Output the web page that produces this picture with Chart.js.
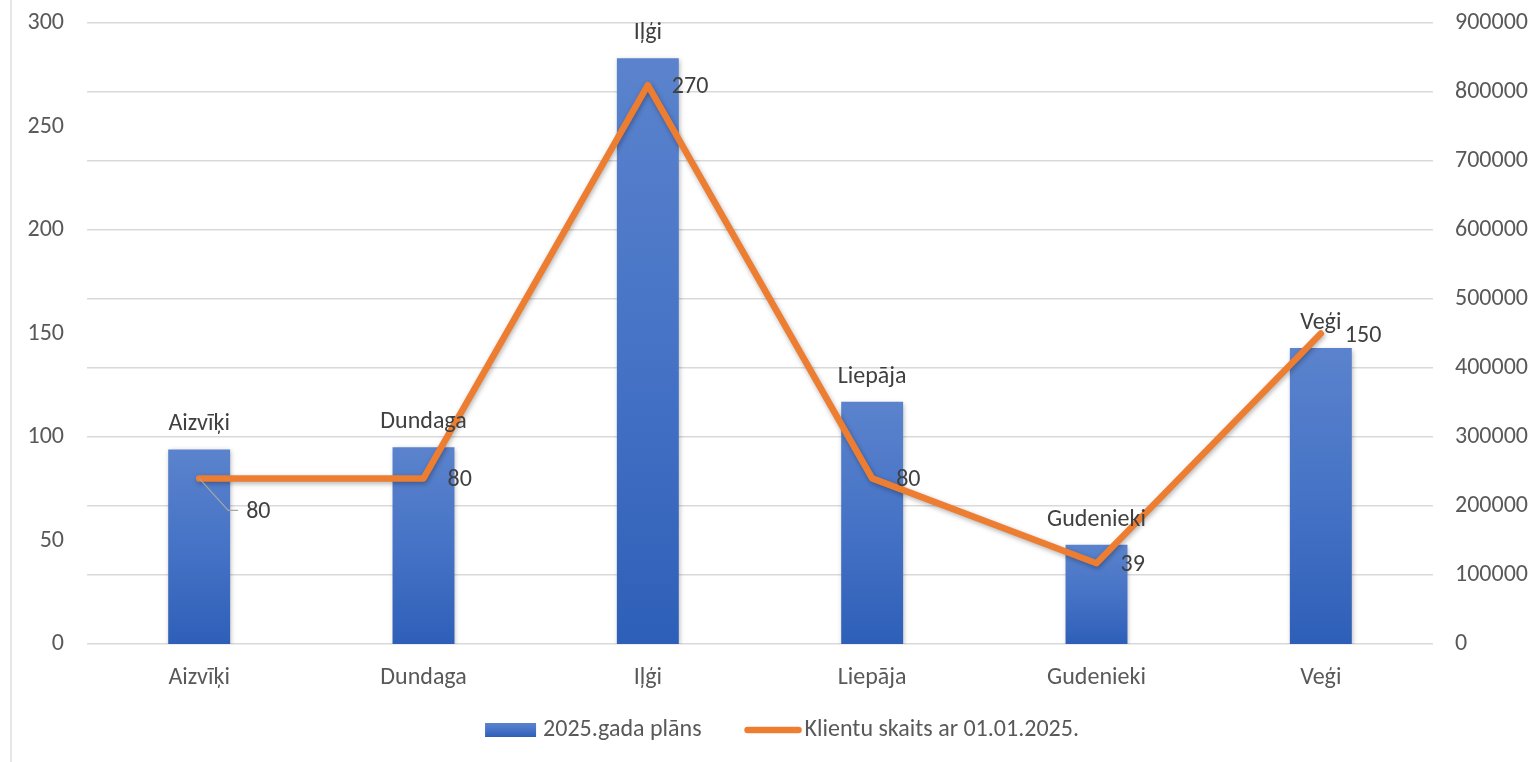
<!DOCTYPE html>
<html>
<head>
<meta charset="utf-8">
<script src="https://cdn.jsdelivr.net/npm/chart.js@4.4.1/dist/chart.umd.min.js"></script>
<style>
  html, body { margin: 0; padding: 0; background: #fff; }
  #wrap { position: relative; width: 1536px; height: 762px; }
  #edge { position: absolute; left: 10px; top: 0; width: 2px; height: 762px; background: #e6e6e6; }
  canvas { position: absolute; left: 0; top: 0; }
</style>
</head>
<body>
<div id="wrap">
  <div id="edge"></div>
  <canvas id="chart" width="1536" height="762"></canvas>
</div>
<script>
'use strict';

const categories = ['Aizvīķi', 'Dundaga', 'Iļģi', 'Liepāja', 'Gudenieki', 'Veģi'];
const planValues = [94, 95, 283, 117, 48, 143];
const clientValues = [240000, 240000, 810000, 240000, 117000, 450000];
const clientLabels = ['80', '80', '270', '80', '39', '150'];
const leftTicks = [0, 50, 100, 150, 200, 250, 300];
const rightTicks = [0, 100000, 200000, 300000, 400000, 500000, 600000, 700000, 800000, 900000];

const fontFamily = 'Carlito, Lato, sans-serif';
const fontSize = 24;
const barColor = '#4472c4';
const lineColor = '#ed7d31';

Chart.defaults.font.family = fontFamily;
Chart.defaults.font.size = fontSize;
Chart.defaults.color = '#595959';


function blueGradient(c, top, bottom) {
    const g = c.createLinearGradient(0, top, 0, bottom);
    g.addColorStop(0, '#5b83cd');
    g.addColorStop(0.5, '#4673c6');
    g.addColorStop(1, '#2e5fb8');
    return g;
}

function barGradient(ctx) {
    const chart = ctx.chart;
    if (!chart.chartArea || ctx.type !== 'data') {
	return barColor;
    }
    const yScale = chart.scales.y;
    return blueGradient(chart.ctx, yScale.getPixelForValue(ctx.raw), yScale.getPixelForValue(0));
}


// soft shadow under bars and line, like the office chart
const shadowPlugin = {
    id: 'softShadow',
    beforeDatasetDraw(chart) {
	const c = chart.ctx;
	c.save();
	c.shadowColor = 'rgba(0, 0, 0, 0.3)';
	c.shadowBlur = 5;
	c.shadowOffsetX = 1;
	c.shadowOffsetY = 2;
    },
    afterDatasetDraw(chart) {
	chart.ctx.restore();
    },
};


// data labels: category name over bars, client label beside line points
const labelPlugin = {
    id: 'dataLabels',
    afterDatasetsDraw(chart) {
	const c = chart.ctx;
	c.save();
	c.font = fontSize + 'px ' + fontFamily;
	c.fillStyle = '#404040';
	c.textBaseline = 'middle';

	c.textAlign = 'center';
	chart.getDatasetMeta(0).data.forEach((bar, i) => {
	    c.fillText(categories[i], bar.x, bar.y - 25);
	});

	c.textAlign = 'left';
	chart.getDatasetMeta(1).data.forEach((pt, i) => {
	    if (i === 0) {
		// first label is pulled away with a leader line
		c.strokeStyle = '#a6a6a6';
		c.lineWidth = 1.2;
		c.beginPath();
		c.moveTo(pt.x, pt.y);
		c.lineTo(pt.x + 29, pt.y + 32);
		c.lineTo(pt.x + 39, pt.y + 32);
		c.stroke();
		c.fillText(clientLabels[i], pt.x + 47, pt.y + 34);
	    } else {
		c.fillText(clientLabels[i], pt.x + 24, pt.y + 2);
	    }
	});
	c.restore();
    },
};


// legend below the axis, spaced like the office legend
const legendPlugin = {
    id: 'officeLegend',
    afterDraw(chart) {
	const c = chart.ctx;
	const sets = chart.data.datasets;
	c.save();
	c.font = fontSize + 'px ' + fontFamily;
	c.textBaseline = 'middle';
	c.textAlign = 'left';
	const w1 = c.measureText(sets[0].label).width;
	const w2 = c.measureText(sets[1].label).width;
	const total = 51 + 7 + w1 + 43 + 57 + 3 + w2;
	const y = chart.chartArea.bottom + 86;
	let x = 782 - total / 2;

	c.fillStyle = blueGradient(c, y - 7, y + 7);
	c.fillRect(x, y - 7, 51, 14);
	x += 58;
	c.fillStyle = '#595959';
	c.fillText(sets[0].label, x, y);
	x += w1 + 43;

	c.strokeStyle = lineColor;
	c.lineWidth = 6.5;
	c.lineCap = 'round';
	c.beginPath();
	c.moveTo(x + 3, y);
	c.lineTo(x + 54, y);
	c.stroke();
	x += 60;
	c.fillText(sets[1].label, x, y);
	c.restore();
    },
};


const chartData = {
    labels: categories,
    datasets: [{
	type: 'bar',
	label: '2025.gada plāns',
	data: planValues,
	yAxisID: 'y',
	backgroundColor: barGradient,
	borderWidth: 0,
	barPercentage: 1,
	categoryPercentage: 0.276,
	order: 2,
    }, {
	type: 'line',
	label: 'Klientu skaits ar 01.01.2025.',
	data: clientValues,
	yAxisID: 'y1',
	borderColor: lineColor,
	backgroundColor: lineColor,
	borderWidth: 6.5,
	borderJoinStyle: 'round',
	borderCapStyle: 'round',
	pointRadius: 0,
	tension: 0,
	order: 1,
    }],
};


function noPad(s) {
    s.paddingTop = 0;
    s.paddingBottom = 0;
}


const chartConfig = {
    data: chartData,
    options: {
	responsive: false,
	animation: false,
	layout: {
	    padding: { top: 23, left: 0, right: 0, bottom: 58 },
	},
	plugins: {
	    tooltip: { enabled: false },
	    legend: { display: false },
	},
	scales: {
	    x: {
		grid: { display: false, drawTicks: false },
		border: { display: false },
		ticks: { padding: 20, color: '#595959' },
		afterFit: s => { s.height = 60; s.paddingLeft = 0; s.paddingRight = 0; },
	    },
	    y: {
		position: 'left',
		min: 0,
		max: 300,
		afterBuildTicks: s => { s.ticks = leftTicks.map(v => ({ value: v })); },
		grid: { display: false, drawTicks: false },
		border: { display: false },
		ticks: { padding: 23, color: '#595959', callback: v => String(v) },
		afterFit: s => { s.width = 87; noPad(s); },
	    },
	    y1: {
		position: 'right',
		min: 0,
		max: 900000,
		afterBuildTicks: s => { s.ticks = rightTicks.map(v => ({ value: v })); },
		grid: { color: '#d9d9d9', lineWidth: 1.5, drawTicks: false },
		border: { display: false },
		ticks: { padding: 22, color: '#595959', callback: v => String(v) },
		afterFit: s => { s.width = 103; noPad(s); },
	    },
	},
    },
    plugins: [shadowPlugin, labelPlugin, legendPlugin],
};


const chart = new Chart(document.querySelector('#chart'), chartConfig);
</script>
</body>
</html>
